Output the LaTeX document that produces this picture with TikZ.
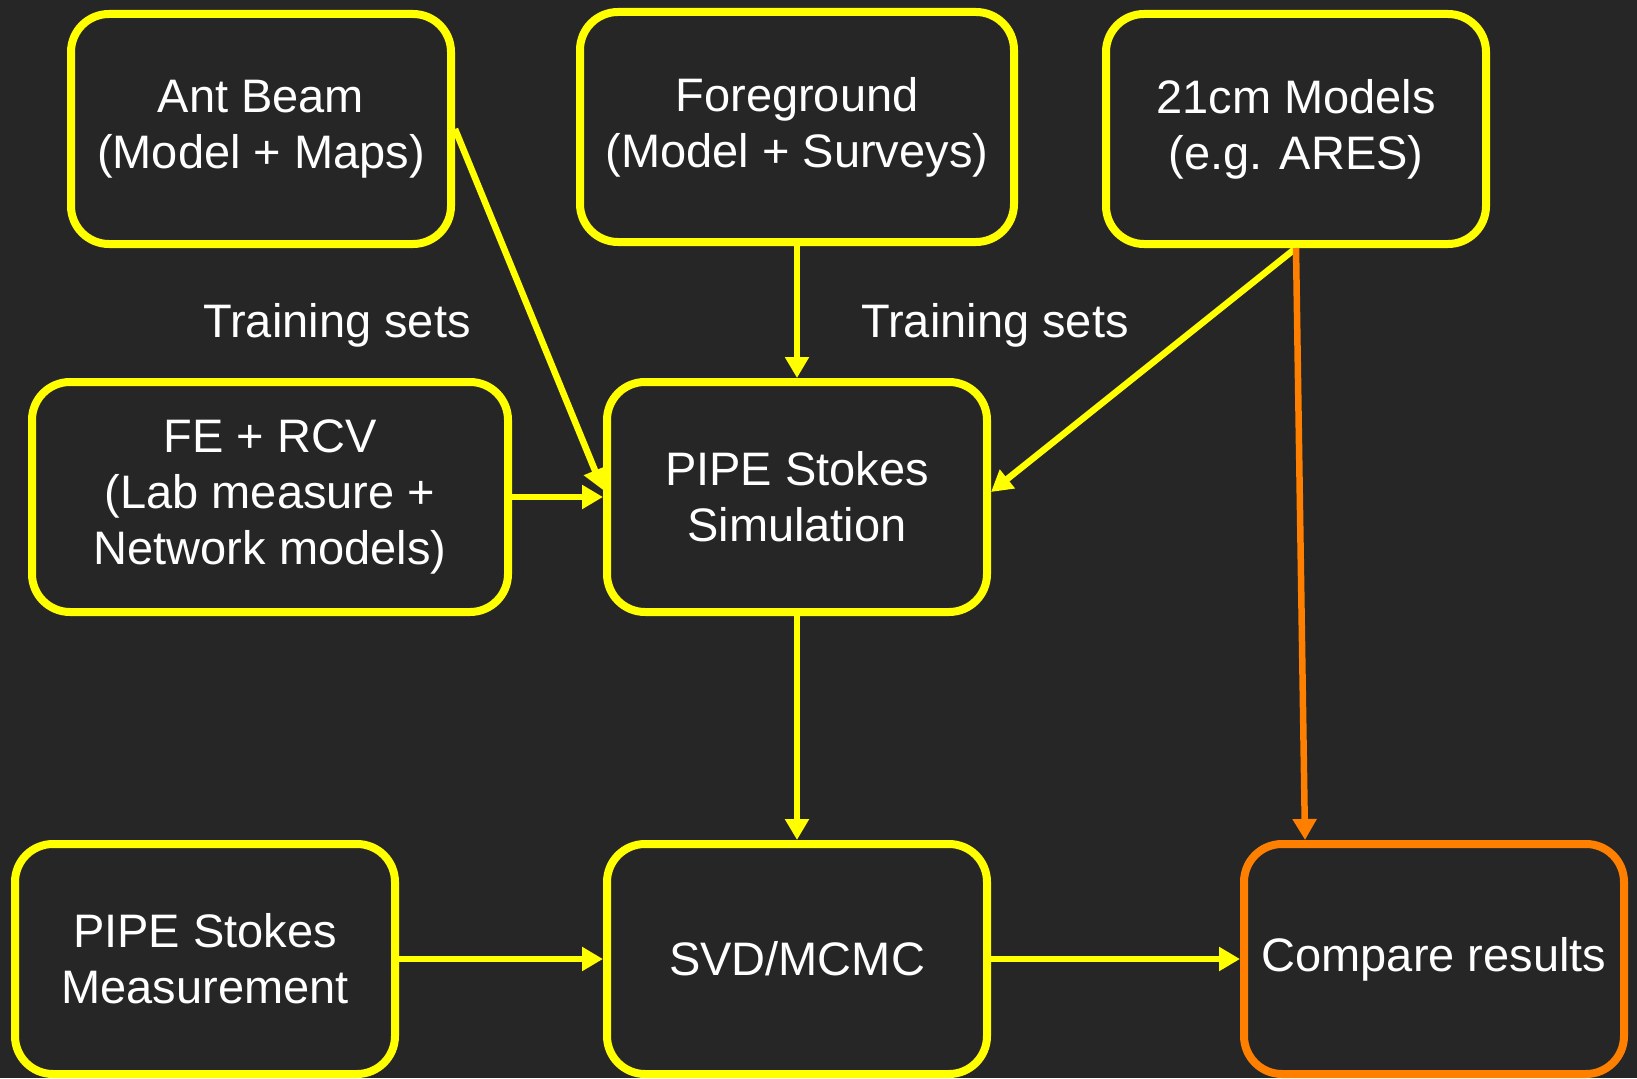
\documentclass[tikz,border=0pt]{standalone}
\usepackage{fontspec}
\setmainfont{Liberation Sans}
\usetikzlibrary{positioning}
\usetikzlibrary{arrows.meta}
\usetikzlibrary{calc}
\definecolor{bgdark}{HTML}{262626}
\definecolor{flowyellow}{HTML}{FFFF00}
\definecolor{floworange}{HTML}{FF8000}

\begin{document}
\begin{tikzpicture}[
  x=1pt, y=1pt,
  font=\fontsize{47}{56}\selectfont,
  box/.style={draw=flowyellow, line width=8pt, rounded corners=38pt, fill=bgdark, text=white, align=center, inner sep=2pt, minimum width=380pt, minimum height=230pt},
  obox/.style={box, draw=floworange},
  arrow/.style={-{Triangle[length=21pt, width=23pt]}, draw=flowyellow, line width=6.5pt},
  oarrow/.style={arrow, draw=floworange},
  lbl/.style={text=white}
]

% Background (fixes the margins)
\fill[bgdark] (0,0) rectangle (1637,-1078);
\useasboundingbox (0,0) rectangle (1637,-1078);

% Central chain
\node[box] (sim) at (797,-497) {PIPE Stokes\\Simulation};
\node[box, minimum width=434pt, above=132pt of sim] (fg) {Foreground\\(Model + Surveys)};
\node[box, below=224pt of sim] (svd) {SVD/MCMC};

% Inputs
\node[box] (ant) at (261,-129) {Ant Beam\\(Model + Maps)};
\node[box] (cm) at (1296,-129) {21cm Models\\(e.g. ARES)};
\node[box, minimum width=476pt, left=91pt of sim] (ferc) {FE + RCV\\(Lab measure +\\Network models)};
\node[box, left=204pt of svd] (meas) {PIPE Stokes\\Measurement};

% Output
\node[obox, right=249pt of svd] (cmp) {Compare results};

% Labels
\node[lbl] (ts1) at (337,-325) {Training sets};
\node[lbl] (ts2) at (995,-325) {Training sets};

% Training set arrows
\draw[arrow] (ant.east) -- ($(sim.west)+(0,7)$);
\draw[arrow] (ferc) -- (sim);
\draw[arrow] (fg) -- (sim);
\draw[arrow] (cm.south) -- ($(sim.east)+(0,5)$);

% Inference
\draw[arrow] (sim) -- (svd);
\draw[arrow] (meas) -- (svd);
\draw[arrow] (svd) -- (cmp);

% Comparison with the input model
\draw[oarrow] (cm.south) -- ($(cmp.north)+(-129,0)$);

\end{tikzpicture}
\end{document}
